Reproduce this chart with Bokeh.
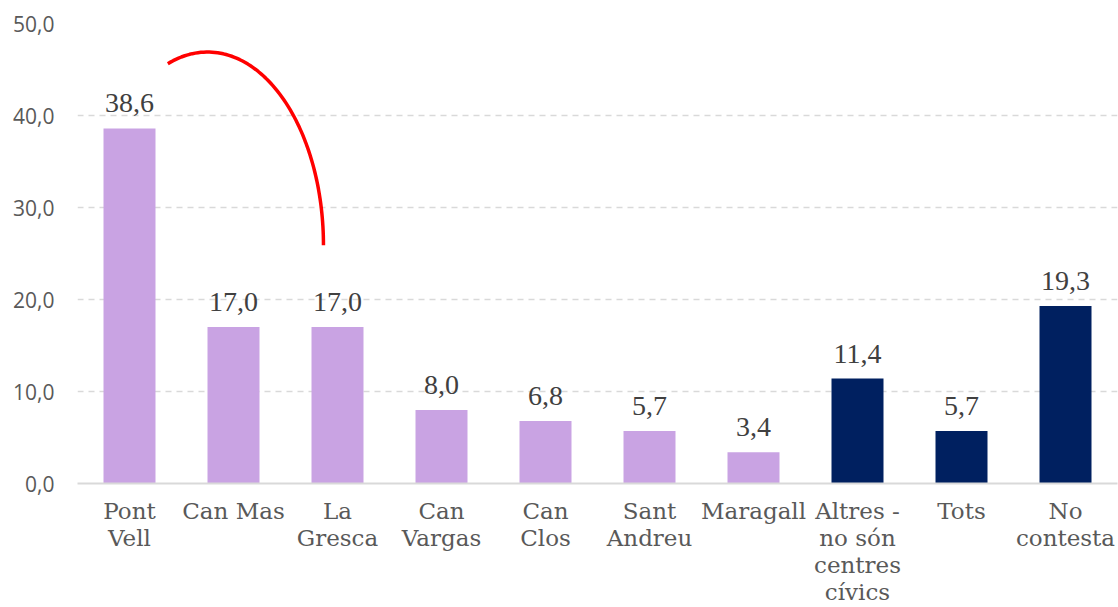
import numpy as np
from bokeh.plotting import figure
from bokeh.models import ColumnDataSource, Range1d, FixedTicker, LabelSet
from bokeh.embed import file_html
from bokeh.resources import INLINE

categories = ["Pont\nVell", "Can Mas", "La\nGresca", "Can\nVargas", "Can\nClos",
              "Sant\nAndreu", "Maragall", "Altres -\nno són\ncentres\ncívics", "Tots", "No\ncontesta"]
values = [38.6, 17.0, 17.0, 8.0, 6.8, 5.7, 3.4, 11.4, 5.7, 19.3]
groups = ["centre"] * 7 + ["altres"] * 3
y_ticks = [0, 10, 20, 30, 40, 50]

PURPLE = "#C9A3E3"
NAVY = "#002060"

xs = list(range(len(categories)))
src = ColumnDataSource(dict(
    x=xs,
    top=values,
    color=[PURPLE if g == "centre" else NAVY for g in groups],
    label=[f"{v:.1f}".replace(".", ",") for v in values],
))

p = figure(width=1118, height=607, output_backend="svg", toolbar_location=None,
           x_range=Range1d(-0.5, len(categories) - 0.5), y_range=Range1d(0, 50),
           min_border_left=77, min_border_right=1, min_border_top=23, min_border_bottom=0)
p.outline_line_color = None
p.background_fill_color = "white"
p.border_fill_color = "white"

p.vbar(x="x", top="top", width=0.5, fill_color="color", line_color=None, source=src)

labels = LabelSet(x="x", y="top", text="label", source=src, text_align="center",
                  text_baseline="alphabetic", y_offset=16,
                  text_font="DejaVu Serif", text_font_size="28px", text_color="#404040")
p.add_layout(labels)

# Annotation arc (red curve)
th = np.linspace(0, np.radians(110), 80)
cx, cy = 0.75, 25.9
ax, by = 1.115, 21.0
p.line(cx + ax * np.cos(th), cy + by * np.sin(th), line_color="#FF0000", line_width=3.5)

# axes
p.xaxis.ticker = FixedTicker(ticks=xs)
p.xaxis.major_label_overrides = {i: c for i, c in enumerate(categories)}
p.xaxis.major_tick_line_color = None
p.xaxis.minor_tick_line_color = None
p.xaxis.axis_line_color = "#D9D9D9"
p.xaxis.axis_line_width = 2
p.xaxis.major_label_text_font = "DejaVu Serif"
p.xaxis.major_label_text_font_size = "23px"
p.xaxis.major_label_text_color = "#595959"
p.xaxis.major_label_text_line_height = 1.04
p.xaxis.major_label_standoff = 8

p.yaxis.ticker = FixedTicker(ticks=y_ticks)
p.yaxis.major_label_overrides = {t: f"{t:.1f}".replace(".", ",") for t in y_ticks}
p.yaxis.major_tick_line_color = None
p.yaxis.minor_tick_line_color = None
p.yaxis.axis_line_color = None
p.yaxis.major_label_text_font = "Open Sans"
p.yaxis.major_label_text_font_size = "21px"
p.yaxis.major_label_text_color = "#595959"
p.yaxis.major_label_standoff = 17

p.xgrid.grid_line_color = None
p.ygrid.grid_line_color = "#D9D9D9"
p.ygrid.grid_line_dash = "6 5"
p.ygrid.grid_line_width = 1.5

open("out.html", "w").write(file_html(p, INLINE))
